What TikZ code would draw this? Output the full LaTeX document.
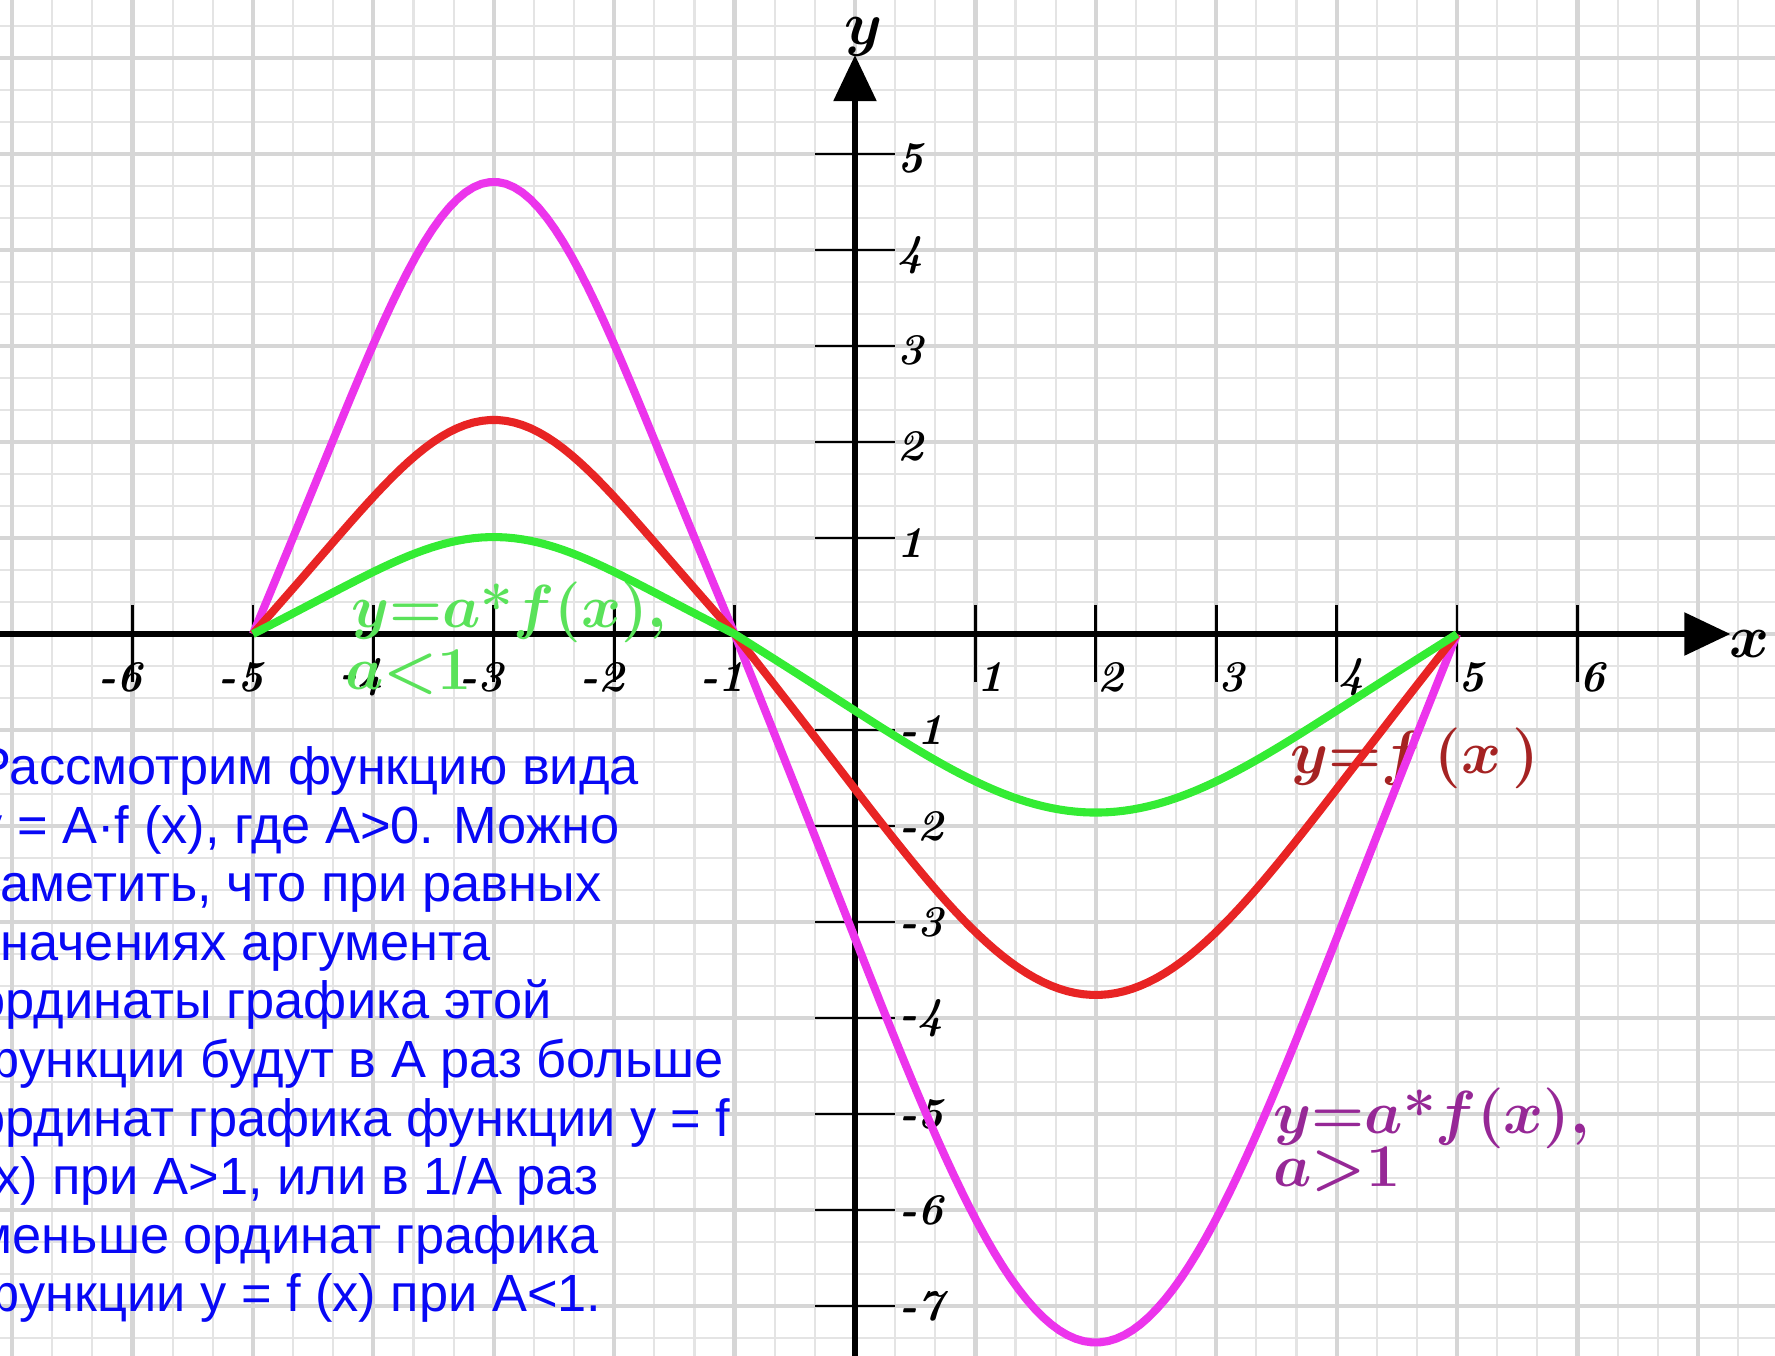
\documentclass[tikz,border=0pt]{standalone}
\usepackage{fontspec}
\usepackage{amsmath}
\newfontfamily\txtfont{Liberation Sans}
\usetikzlibrary{arrows.meta}
\definecolor{gridc}{RGB}{228,228,228}
\definecolor{gridm}{RGB}{214,214,214}
\definecolor{fred}{RGB}{232,36,36}
\definecolor{fmag}{RGB}{236,52,236}
\definecolor{fgrn}{RGB}{52,236,52}
\definecolor{lred}{RGB}{165,35,35}
\definecolor{lmag}{RGB}{150,40,150}
\definecolor{lgrn}{RGB}{90,226,90}
\definecolor{txtblue}{RGB}{8,8,245}

\begin{document}
\begin{tikzpicture}[x=1.204cm,y=0.96cm,
  declare function={shp(\t)=0.953*sin(180*\t)-0.047*sin(540*\t);},
  gmin/.style={draw=gridc,line width=0.6pt},
  gmaj/.style={draw=gridm,line width=1.2pt},
  axis/.style={draw=black,line width=1.6pt,-{Triangle[length=4.6mm,width=4.2mm]}},
  tick/.style={draw=black,line width=0.8pt},
  num/.style={font=\fontsize{12.5}{12.5}\selectfont\bfseries\itshape,inner sep=0},
  crv/.style={line width=2.3pt,line join=round},
  lbl/.style={font=\fontsize{16.5}{18}\selectfont\boldmath,inner sep=0,anchor=west},
  txt/.style={font=\txtfont\fontsize{14.9}{16.7}\selectfont,text=txtblue,inner sep=0,anchor=base west}]
 \useasboundingbox (-7.101,-7.510) rectangle (7.641,6.604);
 \clip (-7.101,-7.510) rectangle (7.641,6.604);
 % paper
 \foreach \i in {-21,...,23} \draw[gmin] (\i/3,-7.6) -- (\i/3,6.7);
 \foreach \j in {-23,...,20} \draw[gmin] (-7.2,\j/3) -- (7.7,\j/3);
 \foreach \i in {-7,...,7} \draw[gmaj] (\i,-7.6) -- (\i,6.7);
 \foreach \j in {-7,...,6} \draw[gmaj] (-7.2,\j) -- (7.7,\j);
 % axes
 \coordinate (xs) at (-7.2,0); \coordinate (xe) at (7.27,0);
 \coordinate (ys) at (0,-7.6); \coordinate (ye) at (0,6.03);
 \draw[axis] (xs) -- (xe);
 \draw[axis] (ys) -- (ye);
 \node[font=\fontsize{18}{18}\selectfont\boldmath,inner sep=0] (ylab) at (0.07,6.22) {$y$};
 \node[font=\fontsize{18}{18}\selectfont\boldmath,inner sep=0] (xlab) at (7.43,-0.1) {$x$};
 \foreach \k in {-6,...,-1,1,2,...,6} \draw[tick] (\k,0.3) -- (\k,-0.5);
 \foreach \k in {-7,...,-1,1,2,...,5} \draw[tick] (-0.33,\k) -- (0.33,\k);
 \foreach \k [count=\n] in {-6,...,-1} \node[num,anchor=east] (xn\n) at (\k+0.09,-0.45) {\k};
 \foreach \k in {1,...,6} \node[num,anchor=west] (xp\k) at (\k+0.01,-0.45) {\k};
 \foreach \k in {1,...,5} \node[num,anchor=west] (yp\k) at (0.35,\k-0.05) {\k};
 \foreach \k [count=\n] in {-7,...,-1} \node[num,anchor=west] (yn\n) at (0.36,\k) {\k};
 % labels
 \node[lbl,text=lgrn] (lg1) at (-4.19,0.23) {$y{=}a\text{\bfseries*}f(x),$};
 \node[lbl,text=lgrn] (lg2) at (-4.24,-0.40) {$a{<}1$};
 \node[lbl,text=lred] (lr1) at (3.61,-1.30) {$y{=}f\,(x\,)$};
 \node[lbl,text=lmag] (lm1) at (3.47,-5.04) {$y{=}a\text{\bfseries*}f(x),$};
 \node[lbl,text=lmag] (lm2) at (3.47,-5.58) {$a{>}1$};
 % curves
 \draw[crv,fmag] plot[domain=-5:-1,samples=60] (\x,{4.71*shp((\x+5)/4)})
   -- plot[domain=-1:5,samples=90] (\x,{-7.38*shp((\x+1)/6)});
 \draw[crv,fred] plot[domain=-5:-1,samples=60] (\x,{2.23*shp((\x+5)/4)})
   -- plot[domain=-1:5,samples=90] (\x,{-3.76*shp((\x+1)/6)});
 \draw[crv,fgrn] plot[domain=-5:-1,samples=60] (\x,{1.01*shp((\x+5)/4)})
   -- plot[domain=-1:5,samples=90] (\x,{-1.86*shp((\x+1)/6)});
 % text
 \foreach \t [count=\n from 0] in {{Рассмотрим функцию вида},{у = A·f (x), где A>0. Можно},
   {заметить, что при равных},{значениях аргумента},{ординаты графика этой},
   {функции будут в A раз больше},{ординат графика функции у = f},
   {(x) при A>1, или в 1/A раз},{меньше ординат графика},{функции у = f (x) при A<1.}}
   \node[txt] (line\n) at (-7.30,{-1.57-0.61*\n}) {\t};
\end{tikzpicture}
\end{document}
